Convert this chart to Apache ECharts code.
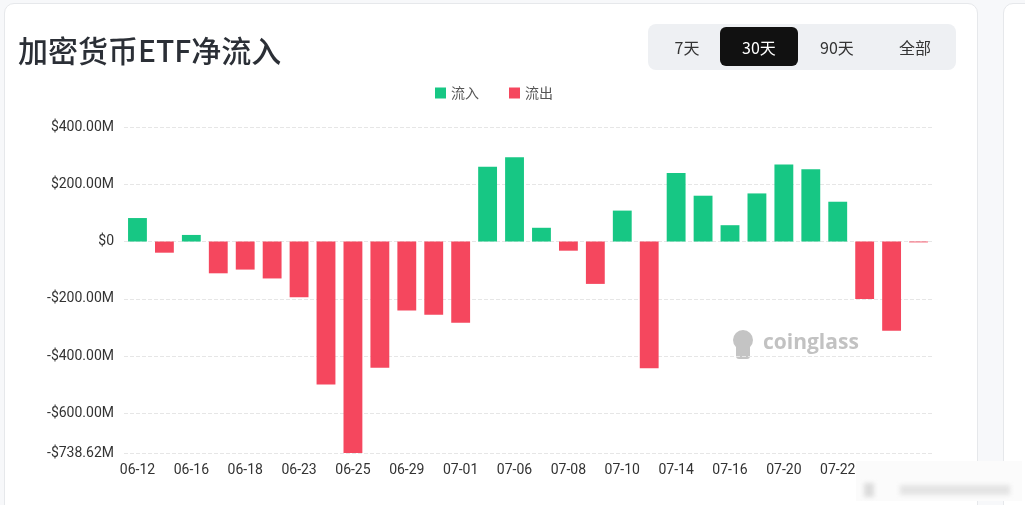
<!DOCTYPE html>
<html>
<head>
<meta charset="utf-8">
<script src="https://cdn.jsdelivr.net/npm/echarts@6/dist/echarts.min.js"></script>
<style>
  html, body { margin: 0; padding: 0; background: #f7f8fa; width: 1025px; height: 505px; overflow: hidden; }
  .card { position: absolute; left: 4px; top: 3px; width: 972px; height: 540px; background: #fff;
    border: 1px solid #e6e8eb; border-radius: 10px; }
  .card2 { position: absolute; left: 1003px; top: 3px; width: 60px; height: 540px; background: #fff;
    border: 1px solid #e6e8eb; border-radius: 10px; }
  #main { position: absolute; left: 0; top: 0; width: 1025px; height: 505px; }
  .title { position: absolute; left: 18px; top: 27px; font: 500 30px "Noto Sans CJK SC", sans-serif; color: #2b2f36; }
  .tabs { position: absolute; left: 648px; top: 24px; width: 308px; height: 46px; background: #eef0f3; border-radius: 8px; }
  .tab { position: absolute; top: 3px; height: 39px; width: 78px; display: flex; align-items: center; justify-content: center;
    font: 16px "Noto Sans CJK SC", sans-serif; color: #333; border-radius: 6px; }
  .tab.on { background: #111; color: #fff; }
  .wm { position: absolute; left: 856px; top: 461px; width: 166px; height: 40px; background: #fbfbfb; }
  .wm i { position: absolute; background: #dcdcdc; filter: blur(2px); }
</style>
</head>
<body>
<div class="card"></div>
<div class="card2"></div>
<div id="main"></div>
<div class="title">加密货币ETF净流入</div>
<div class="tabs">
  <div class="tab" style="left:0px">7天</div>
  <div class="tab on" style="left:72px">30天</div>
  <div class="tab" style="left:150px">90天</div>
  <div class="tab" style="left:228px">全部</div>
</div>
<div class="wm">
  <i style="left:8px;top:22px;width:10px;height:14px"></i>
  <i style="left:44px;top:24px;width:110px;height:10px;background:#e4e4e4"></i>
</div>
<script>
// 日期
const dates = [
  "06-12", "06-13", "06-16", "06-17", "06-18", "06-20", "06-23", "06-24", "06-25", "06-26",
  "06-29", "06-30", "07-01", "07-02", "07-06", "07-07", "07-08", "07-09", "07-10", "07-11",
  "07-14", "07-15", "07-16", "07-17", "07-20", "07-21", "07-22", "07-23", "07-24", "07-25",
];
// 净流入 (百万美元)
const netFlow = [
  82, -39, 23, -111, -98, -129, -195, -499, -738.62, -441,
  -241, -256, -284, 261, 294, 48, -32, -148, 108, -443,
  239, 160, 57, 168, 269, 252, 139, -201, -312, -3,
];
const yRange = { min: -738.62, max: 400 };

const inflow = netFlow.map(v => (v >= 0 ? v : "-"));
const outflow = netFlow.map(v => (v < 0 ? v : "-"));

const fmt = v => {
  if (v === 0) return "$0";
  return (v < 0 ? "-" : "") + "$" + Math.abs(v).toFixed(2) + "M";
};

const chart = echarts.init(document.getElementById("main"));
chart.setOption({
  animation: false,
  textStyle: { fontFamily: "Roboto, 'Noto Sans', sans-serif" },
  legend: {
    top: 81,
    left: 430,
    itemWidth: 11,
    itemHeight: 11,
    itemGap: 30,
    icon: "rect",
    textStyle: { color: "#555", fontSize: 14, fontFamily: "'Noto Sans CJK SC', sans-serif" },
    data: ["流入", "流出"],
  },
  grid: { left: 124, right: 93, top: 127, bottom: 52 },
  xAxis: {
    type: "category",
    data: dates,
    axisLine: { show: false },
    axisTick: { show: false },
    axisLabel: { interval: 1, color: "#333", fontSize: 14, margin: 10 },
  },
  yAxis: {
    type: "value",
    min: yRange.min,
    max: yRange.max,
    splitNumber: 5,
    axisLabel: { formatter: fmt, color: "#333", fontSize: 14, margin: 10 },
    splitLine: { lineStyle: { type: "dashed", color: "#e6e6e6" } },
  },
  series: [
    {
      name: "流入",
      type: "bar",
      stack: "flow",
      barWidth: "70%",
      itemStyle: { color: "#17c784" },
      data: inflow,
    },
    {
      name: "流出",
      type: "bar",
      stack: "flow",
      barWidth: "70%",
      itemStyle: { color: "#f5475e" },
      data: outflow,
    },
  ],
  graphic: [
    {
      type: "group",
      left: 733,
      top: 330,
      children: [
        { type: "circle", shape: { cx: 13, cy: 11, r: 10 }, style: { fill: "#c4c4c4" } },
        { type: "rect", shape: { x: 6, y: 15, width: 14, height: 15, r: 3 }, style: { fill: "#c4c4c4" } },
        {
          type: "text",
          x: 33,
          y: 4,
          style: { text: "coinglass", fill: "#c2c2c2", font: "bold 21px 'Open Sans', sans-serif" },
        },
      ],
    },
  ],
});
</script>
</body>
</html>
